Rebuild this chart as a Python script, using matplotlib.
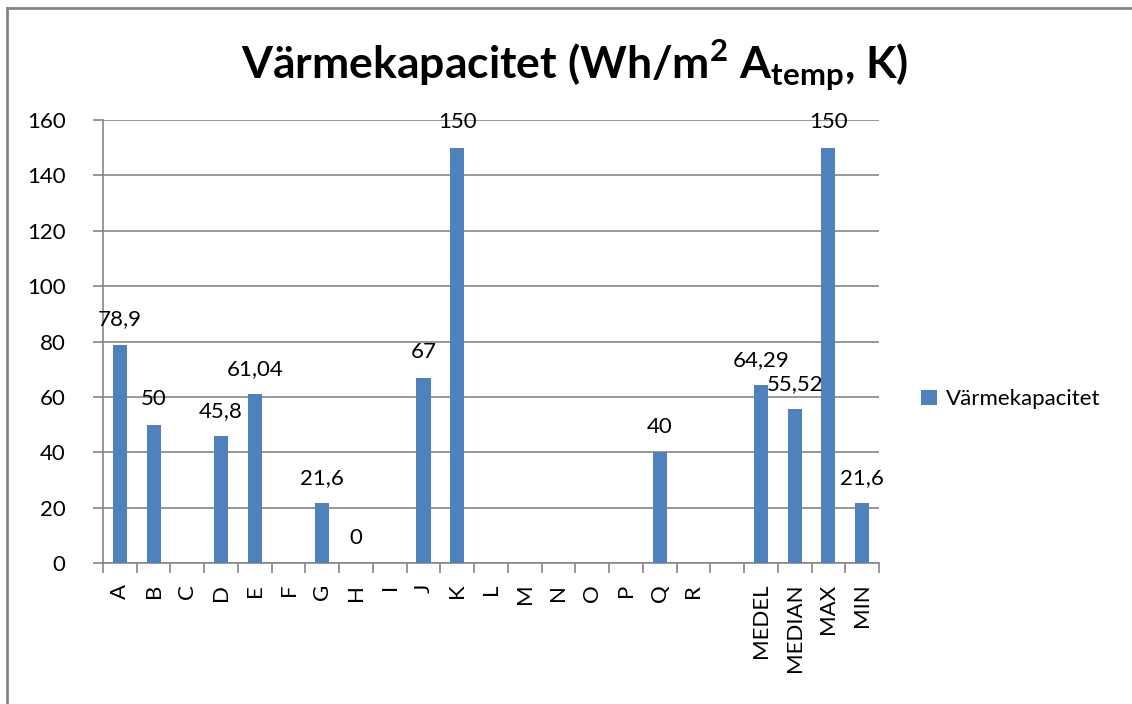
import numpy as np
import matplotlib
matplotlib.use("Agg")
from matplotlib import pyplot as plt
from matplotlib.lines import Line2D

plt.rcParams['font.family'] = ['Lato', 'DejaVu Sans']
plt.rcParams['mathtext.fontset'] = 'custom'
plt.rcParams['mathtext.bf'] = 'Lato:bold'
plt.rcParams['mathtext.rm'] = 'Lato:bold'

# data
categories = ["A", "B", "C", "D", "E", "F", "G", "H", "I", "J", "K", "L",
              "M", "N", "O", "P", "Q", "R", "", "MEDEL", "MEDIAN", "MAX", "MIN"]
values = [78.9, 50, None, 45.8, 61.04, None, 21.6, 0, None, 67, 150, None,
          None, None, None, None, 40, None, None, 64.29, 55.52, 150, 21.6]
value_labels = ["78,9", "50", "", "45,8", "61,04", "", "21,6", "0", "", "67", "150", "",
                "", "", "", "", "40", "", "", "64,29", "55,52", "150", "21,6"]
series_name = "Värmekapacitet"

bar_color = "#4F81BD"
grid_color = "#868686"
fs = 16

fig = plt.figure(figsize=(11.32, 7.04), dpi=100)
ax = fig.add_axes([0.091, 0.2003, 0.6855, 0.6292])

x = np.arange(len(categories))
h = [v if v is not None else 0 for v in values]
ax.bar(x, h, width=0.42, color=bar_color, label=series_name, zorder=3)

# value labels above the bars (empty categories get none)
for xi, v, lab in zip(x, values, value_labels):
    if v is None:
        continue
    ax.annotate(lab, (xi, v), xytext=(0, 11), textcoords="offset points",
                ha="center", va="bottom", fontsize=fs)

ax.set_xlim(-0.5, len(categories) - 0.5)
ax.set_ylim(0, 160)
ax.set_yticks(np.arange(0, 161, 20))
ax.yaxis.grid(True, color=grid_color, linewidth=1.2, zorder=0)

# category labels between boundary ticks
ax.set_xticks(x)
ax.set_xticklabels(categories, rotation=90, fontsize=fs)
ax.tick_params(axis="x", which="major", length=0, pad=15)
ax.set_xticks(np.arange(-0.5, len(categories)), minor=True)
ax.tick_params(axis="x", which="minor", length=7, width=1.2, color=grid_color)
ax.tick_params(axis="y", length=7, width=1.2, color=grid_color, labelsize=fs, pad=20)

for s in ["top", "right"]:
    ax.spines[s].set_visible(False)
for s in ["left", "bottom"]:
    ax.spines[s].set_color(grid_color)
    ax.spines[s].set_linewidth(1.2)

fig.text(0.508, 0.888, "Värmekapacitet (Wh/m$^{\\mathbf{2}}$ A$_{\\mathbf{temp}}$, K)",
         ha="center", va="baseline", fontsize=32, fontweight="bold")

ax.legend(loc="center left", bbox_to_anchor=(0.804, 0.433), bbox_transform=fig.transFigure,
          frameon=False, fontsize=fs, handlelength=0.7, handleheight=0.7,
          handletextpad=0.4, borderpad=0)

# outer chart border (top and left edge)
fig.add_artist(Line2D([0.0066, 0.0066], [0.0, 0.9893], color=grid_color, linewidth=2,
                      transform=fig.transFigure))
fig.add_artist(Line2D([0.0066, 1.01], [0.9893, 0.9893], color=grid_color, linewidth=2,
                      transform=fig.transFigure))

fig.savefig("out.png", dpi=100)
